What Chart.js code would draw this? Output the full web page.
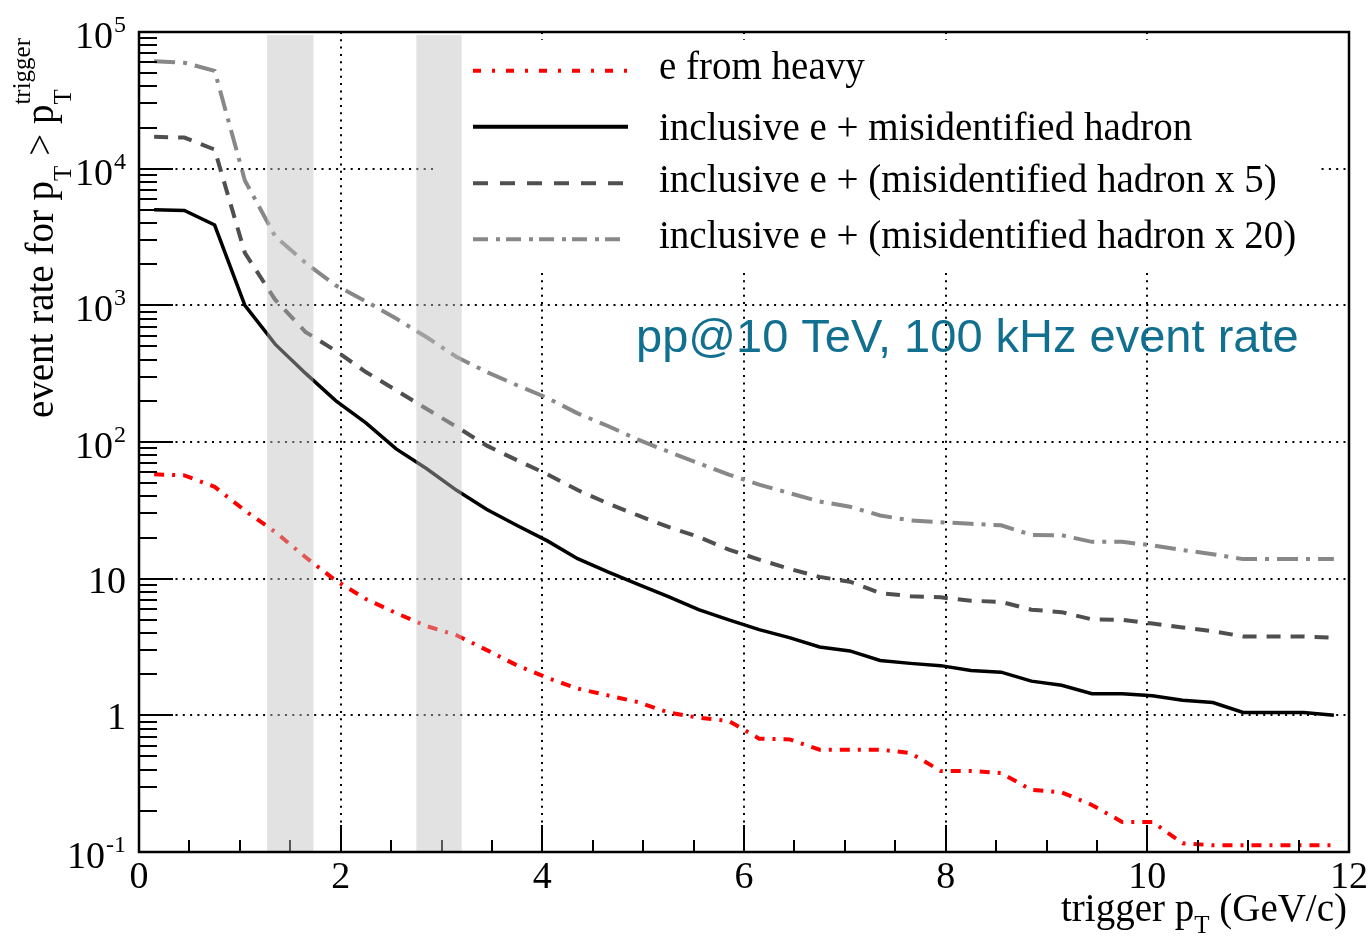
<!DOCTYPE html>
<html>
<head>
<meta charset="utf-8">
<script src="https://cdn.jsdelivr.net/npm/chart.js@4.4.0/dist/chart.umd.min.js"></script>
<style>
  html, body { margin: 0; padding: 0; background: #fff; }
  #wrap { width: 1370px; height: 938px; }
</style>
</head>
<body>
<div id="wrap"><canvas id="chart" width="1370" height="938"></canvas></div>
<script>
// trigger pT bin centres (GeV/c)
const ptBins = [0.15, 0.45, 0.75, 1.05, 1.35, 1.65, 1.95, 2.25, 2.55, 2.85,
                3.15, 3.45, 3.75, 4.05, 4.35, 4.65, 4.95, 5.25, 5.55, 5.85,
                6.15, 6.45, 6.75, 7.05, 7.35, 7.65, 7.95, 8.25, 8.55, 8.85,
                9.15, 9.45, 9.75, 10.05, 10.35, 10.65, 10.95, 11.25, 11.55, 11.85];

const heavyE = [58, 57, 47, 31.5, 22, 14.4, 9.7, 7.1, 5.6, 4.5,
                3.85, 3.0, 2.32, 1.88, 1.57, 1.40, 1.25, 1.05, 0.96, 0.91,
                0.675, 0.667, 0.561, 0.561, 0.561, 0.53, 0.392, 0.392, 0.378, 0.285,
                0.273, 0.221, 0.166, 0.166, 0.116, 0.112, 0.112, 0.112, 0.112, 0.112];

const inclusive = [5010, 4950, 3870, 1000, 520, 319, 201, 138, 89, 64,
                   44.3, 32.1, 24.5, 18.9, 14.0, 11.2, 9.1, 7.4, 5.93, 5.0,
                   4.24, 3.70, 3.16, 2.96, 2.52, 2.40, 2.31, 2.13, 2.07, 1.78,
                   1.66, 1.44, 1.44, 1.39, 1.29, 1.24, 1.05, 1.05, 1.05, 1.0];

const inclusive5 = [17100, 16900, 13800, 2420, 1100, 640, 465, 325, 239, 175,
                    129, 94, 73.5, 58, 44.5, 35.5, 29, 23.9, 20.2, 16.3,
                    13.8, 11.8, 10.3, 9.5, 7.85, 7.45, 7.3, 6.9, 6.76, 5.93,
                    5.69, 5.04, 5.0, 4.69, 4.39, 4.13, 3.78, 3.78, 3.77, 3.69];

const inclusive20 = [61000, 59500, 52000, 8200, 3200, 2050, 1400, 1070, 800, 586,
                     419, 325, 260, 210, 162, 131, 104, 85, 70, 57.7,
                     48.7, 42.3, 36.7, 33.6, 29, 26.7, 25.9, 25.2, 24.6, 20.9,
                     20.8, 18.6, 18.6, 17.5, 16.2, 15.1, 13.9, 13.9, 13.9, 13.9];

const seriesLabels = ['e from heavy',
                      'inclusive e + misidentified hadron',
                      'inclusive e + (misidentified hadron x 5)',
                      'inclusive e + (misidentified hadron x 20)'];

const xTicks = [0, 2, 4, 6, 8, 10, 12];
const yTicks = [0.1, 1, 10, 100, 1000, 10000, 100000];
const yTickLabels = [['10', '-1'], ['1', ''], ['10', ''], ['10', '2'], ['10', '3'], ['10', '4'], ['10', '5']];
const bands = [[1.27, 1.73], [2.75, 3.2]];
const note = 'pp@10 TeV, 100 kHz event rate';

const SERIF = "'Liberation Serif', 'Times New Roman', serif";

const styles = [
    { color: '#ff0000', width: 4, dash: [10, 8, 3, 8], legendDash: [8, 11, 3, 11] },
    { color: '#000000', width: 3.5, dash: [], legendDash: [] },
    { color: '#4f4f4f', width: 4, dash: [14, 10], legendDash: [15, 12] },
    { color: '#888888', width: 4, dash: [21, 8, 4, 8], legendDash: [15, 8, 4, 6] }
];
const series = [heavyE, inclusive, inclusive5, inclusive20];

function seg(ctx, x1, y1, x2, y2) {
    ctx.beginPath();
    ctx.moveTo(x1, y1);
    ctx.lineTo(x2, y2);
    ctx.stroke();
}

const framePlugin = {
    id: 'rootFrame',
    beforeDatasetsDraw(chart) {
        const { ctx, chartArea: a, scales: { x, y } } = chart;
        ctx.save();
        // dotted grid
        ctx.strokeStyle = '#000';
        ctx.lineWidth = 2;
        ctx.setLineDash([2, 5.3]);
        xTicks.slice(1, -1).forEach(v => {
            const px = Math.round(x.getPixelForValue(v));
            seg(ctx, px, a.top, px, a.bottom);
        });
        yTicks.slice(1, -1).forEach(v => {
            const py = Math.round(y.getPixelForValue(v));
            seg(ctx, a.left, py, a.right, py);
        });
        ctx.setLineDash([]);
        // legend background hides the grid
        ctx.fillStyle = '#fff';
        ctx.fillRect(437, 40, 883, 232);
        ctx.restore();
    },
    afterDatasetsDraw(chart) {
        const { ctx, chartArea: a, scales: { x, y } } = chart;
        ctx.save();
        ctx.strokeStyle = '#000';
        ctx.lineWidth = 2;
        ctx.setLineDash([]);

        // y ticks (major + minor)
        for (let d = -1; d <= 4; d++) {
            for (let k = 1; k <= 9; k++) {
                const py = Math.round(y.getPixelForValue(k * Math.pow(10, d)));
                seg(ctx, a.left, py, a.left + (k === 1 ? 34 : 18), py);
            }
        }
        seg(ctx, a.left, a.top, a.left + 34, a.top);

        // x ticks
        for (let v = 0.5; v < 12; v += 0.5) {
            const px = Math.round(x.getPixelForValue(v));
            const major = Math.abs(v % 2) < 1e-9;
            seg(ctx, px, a.bottom, px, a.bottom - (major ? 27 : 12));
        }

        // shaded pT windows
        ctx.fillStyle = 'rgba(190,190,190,0.45)';
        bands.forEach(([lo, hi]) => {
            const x1 = x.getPixelForValue(lo), x2 = x.getPixelForValue(hi);
            ctx.fillRect(x1, a.top + 3, x2 - x1, a.bottom - a.top - 4);
        });

        // frame
        ctx.lineWidth = 2.5;
        ctx.strokeRect(a.left, a.top, a.right - a.left, a.bottom - a.top);

        // y tick labels
        ctx.fillStyle = '#000';
        ctx.textAlign = 'left';
        ctx.textBaseline = 'alphabetic';
        yTicks.forEach((v, i) => {
            const py = y.getPixelForValue(v);
            const [base, sup] = yTickLabels[i];
            ctx.font = '24px ' + SERIF;
            const ws = sup ? ctx.measureText(sup).width : 0;
            ctx.font = '38px ' + SERIF;
            const wb = ctx.measureText(base).width;
            const right = 126;
            const bl = py + (sup ? 16 : 14);
            ctx.fillText(base, right - ws - wb - (sup ? 1 : 0), bl);
            if (sup) {
                ctx.font = '24px ' + SERIF;
                ctx.fillText(sup, right - ws, bl - 16);
            }
        });

        // x tick labels
        ctx.font = '38px ' + SERIF;
        ctx.textAlign = 'center';
        xTicks.forEach(v => ctx.fillText(String(v), x.getPixelForValue(v), 888));

        // x title: trigger p_T (GeV/c)
        ctx.textAlign = 'left';
        ctx.font = '39px ' + SERIF;
        const t1 = 'trigger p', t2 = ' (GeV/c)';
        const w1 = ctx.measureText(t1).width, w2 = ctx.measureText(t2).width;
        ctx.font = '25px ' + SERIF;
        const wT = ctx.measureText('T').width;
        let sx = 1347 - (w1 + wT + w2);
        ctx.font = '39px ' + SERIF;
        ctx.fillText(t1, sx, 921);
        ctx.font = '25px ' + SERIF;
        ctx.fillText('T', sx + w1, 921 + 12);
        ctx.font = '39px ' + SERIF;
        ctx.fillText(t2, sx + w1 + wT, 921);

        // y title (rotated)
        ctx.save();
        ctx.translate(53, 418);
        ctx.rotate(-Math.PI / 2);
        let u = 0;
        ctx.font = '39px ' + SERIF;
        ctx.fillText('event rate for p', u, 0);
        u += ctx.measureText('event rate for p').width;
        ctx.font = '25px ' + SERIF;
        ctx.fillText('T', u, 18);
        u += ctx.measureText('T').width;
        ctx.font = '39px ' + SERIF;
        ctx.fillText(' > p', u, 0);
        u += ctx.measureText(' > p').width;
        ctx.font = '25px ' + SERIF;
        ctx.fillText('T', u, 18);
        ctx.fillText('trigger', u, -23);
        ctx.restore();

        // legend
        const lineY = [70.7, 126.7, 183.3, 239.3];
        const textY = [79, 140, 192, 248];
        styles.forEach((s, i) => {
            ctx.strokeStyle = s.color;
            ctx.lineWidth = 4;
            ctx.setLineDash(s.legendDash);
            seg(ctx, 473, lineY[i], 628, lineY[i]);
            ctx.setLineDash([]);
            ctx.fillStyle = '#000';
            ctx.font = '39px ' + SERIF;
            ctx.textAlign = 'left';
            ctx.fillText(seriesLabels[i], 659, textY[i]);
        });

        // annotation
        ctx.fillStyle = '#117090';
        ctx.font = "47px 'Liberation Sans', Arial, sans-serif";
        ctx.fillText(note, 636, 352);
        ctx.restore();
    }
};

new Chart(document.getElementById('chart'), {
    type: 'line',
    data: {
        datasets: series.map((vals, i) => ({
            label: seriesLabels[i],
            data: ptBins.map((p, j) => ({ x: p, y: vals[j] })),
            borderColor: styles[i].color,
            borderWidth: styles[i].width,
            borderDash: styles[i].dash,
            pointRadius: 0,
            tension: 0,
            fill: false
        }))
    },
    options: {
        responsive: false,
        animation: false,
        devicePixelRatio: 1,
        layout: { padding: { left: 139, right: 21, top: 32, bottom: 86 } },
        scales: {
            x: { type: 'linear', min: 0, max: 12, display: false },
            y: { type: 'logarithmic', min: 0.1, max: 100000, display: false }
        },
        plugins: {
            legend: { display: false },
            tooltip: { enabled: false }
        }
    },
    plugins: [framePlugin]
});
</script>
</body>
</html>
